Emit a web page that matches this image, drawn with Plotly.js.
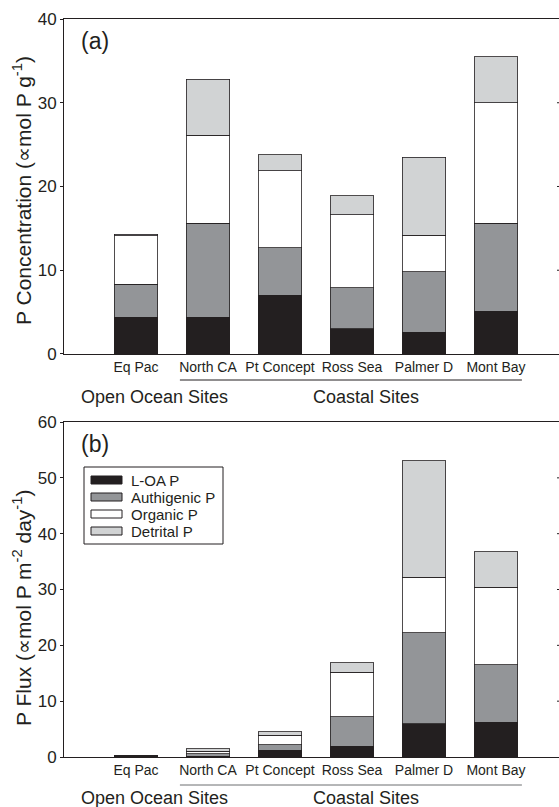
<!DOCTYPE html>
<html><head><meta charset="utf-8">
<script src="https://cdn.plot.ly/plotly-3.0.1.min.js"></script>
<style>html,body{margin:0;padding:0;overflow:hidden;background:#fff}#chart{width:566px;height:807px}</style>
</head><body><div id="chart"></div>
<script>
const sites = ["Eq Pac", "North CA", "Pt Concept", "Ross Sea", "Palmer D", "Mont Bay"];
const seriesNames = ["L-OA P", "Authigenic P", "Organic P", "Detrital P"];

// (a) P concentration (segment sizes, stacked)
const concLOA  = [4.4, 4.4, 7.0, 3.0, 2.6, 5.1];
const concAuth = [3.9, 11.2, 5.7, 4.9, 7.2, 10.5];
const concOrg  = [5.8, 10.5, 9.2, 8.7, 4.4, 14.4];
const concDet  = [0.2, 6.7, 1.9, 2.3, 9.3, 5.5];

// (b) P flux (segment sizes, stacked)
const fluxLOA  = [0.1, 0.1, 1.25, 1.9, 6.0, 6.2];
const fluxAuth = [0.05, 0.45, 0.9, 5.3, 16.3, 10.3];
const fluxOrg  = [0.05, 0.5, 1.75, 8.0, 9.9, 13.9];
const fluxDet  = [0.02, 0.4, 0.6, 1.7, 20.9, 6.4];

const concTicks = [0, 10, 20, 30, 40];
const fluxTicks = [0, 10, 20, 30, 40, 50, 60];

const fillColors = ["#231f20", "#939598", "#ffffff", "#d1d3d4"];
const ink = "#231f20";
const FONT = "Liberation Sans, Arial, Helvetica, sans-serif";

const concSeries = [concLOA, concAuth, concOrg, concDet];
const fluxSeries = [fluxLOA, fluxAuth, fluxOrg, fluxDet];

const traces = [];
concSeries.forEach((vals, i) => {
  traces.push({type: "bar", x: sites, y: vals, name: seriesNames[i], xaxis: "x", yaxis: "y",
    marker: {color: fillColors[i], line: {color: ink, width: 0.8}}, showlegend: false, hoverinfo: "x+y+name"});
});
fluxSeries.forEach((vals, i) => {
  traces.push({type: "bar", x: sites, y: vals, name: seriesNames[i], xaxis: "x2", yaxis: "y2",
    marker: {color: fillColors[i], line: {color: ink, width: 0.8}}, showlegend: false, hoverinfo: "x+y+name"});
});

const xr = [-1, 5.917];
const xCommon = {type: "category", range: xr, showline: true, linecolor: ink, linewidth: 1, mirror: true,
  ticks: "", showgrid: false, zeroline: false, tickfont: {size: 14, color: ink, family: FONT}};
const yCommon = {showline: true, linecolor: ink, linewidth: 1, mirror: true, ticks: "outside", ticklen: 3,
  tickcolor: ink, showgrid: false, zeroline: false, tickmode: "array", tickfont: {size: 17, color: ink, family: FONT}};

// Paper-coordinate helpers (plot area: pixel x 64..562, pixel y 19..757)
const px = v => (v - 64) / 498;
const py = v => (757 - v) / 738;

const annotations = [
  {text: "P Concentration (\u221Dmol P g<sup>-1</sup>)", xref: "paper", yref: "paper", x: px(22), y: py(191), textangle: -90,
    xanchor: "center", yanchor: "middle", showarrow: false, font: {size: 21, color: ink}},
  {text: "P Flux (\u221Dmol P m<sup>-2</sup> day<sup>-1</sup>)", xref: "paper", yref: "paper", x: px(22), y: py(608), textangle: -90,
    xanchor: "center", yanchor: "middle", showarrow: false, font: {size: 21, color: ink}},
  {text: "(a)", xref: "paper", yref: "paper", x: px(95), y: py(41), xanchor: "center", yanchor: "middle", showarrow: false, font: {size: 23, color: ink}},
  {text: "(b)", xref: "paper", yref: "paper", x: px(95), y: py(444), xanchor: "center", yanchor: "middle", showarrow: false, font: {size: 23, color: ink}},
  {text: "Open Ocean Sites", xref: "x", yref: "paper", x: 0.26, y: py(397), xanchor: "center", yanchor: "middle", showarrow: false, font: {size: 18, color: ink}},
  {text: "Coastal Sites", xref: "x", yref: "paper", x: 3.19, y: py(397), xanchor: "center", yanchor: "middle", showarrow: false, font: {size: 18, color: ink}},
  {text: "Open Ocean Sites", xref: "x2", yref: "paper", x: 0.26, y: py(798), xanchor: "center", yanchor: "middle", showarrow: false, font: {size: 18, color: ink}},
  {text: "Coastal Sites", xref: "x2", yref: "paper", x: 3.19, y: py(798), xanchor: "center", yanchor: "middle", showarrow: false, font: {size: 18, color: ink}}
];

const shapes = [
  {type: "line", xref: "x", yref: "paper", x0: 0.61, x1: 5.36, y0: py(380), y1: py(380), line: {color: ink, width: 1}},
  {type: "line", xref: "x2", yref: "paper", x0: 0.61, x1: 5.36, y0: py(785), y1: py(785), line: {color: "#6d6e71", width: 1}},
  // legend frame
  {type: "rect", xref: "paper", yref: "paper", x0: px(84), x1: px(223), y0: py(544), y1: py(467), line: {color: ink, width: 1}, fillcolor: "#fff"}
];

// right-hand inner tick marks
concTicks.slice(1, -1).forEach(t => shapes.push({type: "line", xref: "paper", yref: "y", x0: px(557), x1: 1, y0: t, y1: t, line: {color: ink, width: 1}}));
fluxTicks.slice(1, -1).forEach(t => shapes.push({type: "line", xref: "paper", yref: "y2", x0: px(557), x1: 1, y0: t, y1: t, line: {color: ink, width: 1}}));

// legend entries
seriesNames.forEach((name, i) => {
  const cy = 480 + i * 17;
  shapes.push({type: "rect", xref: "paper", yref: "paper", x0: px(91), x1: px(122), y0: py(cy + 4), y1: py(cy - 4),
    line: {color: ink, width: 1}, fillcolor: fillColors[i]});
  annotations.push({text: name, xref: "paper", yref: "paper", x: px(129), y: py(cy), xanchor: "left", yanchor: "middle",
    showarrow: false, font: {size: 15, color: ink}});
});

const layout = {
  width: 566, height: 807,
  margin: {l: 64, r: 4, t: 19, b: 50},
  paper_bgcolor: "#fff", plot_bgcolor: "#fff",
  font: {family: FONT, color: ink},
  barmode: "stack", bargap: 0.39, showlegend: false,
  xaxis: Object.assign({}, xCommon, {domain: [0, 1], anchor: "y"}),
  yaxis: Object.assign({}, yCommon, {domain: [0.5461, 1], anchor: "x", range: [0, 40], tickvals: concTicks}),
  xaxis2: Object.assign({}, xCommon, {domain: [0, 1], anchor: "y2"}),
  yaxis2: Object.assign({}, yCommon, {domain: [0, 0.4539], anchor: "x2", range: [0, 60], tickvals: fluxTicks}),
  annotations: annotations,
  shapes: shapes
};

Plotly.newPlot("chart", traces, layout, {displayModeBar: false, staticPlot: true});
</script>
</body></html>
